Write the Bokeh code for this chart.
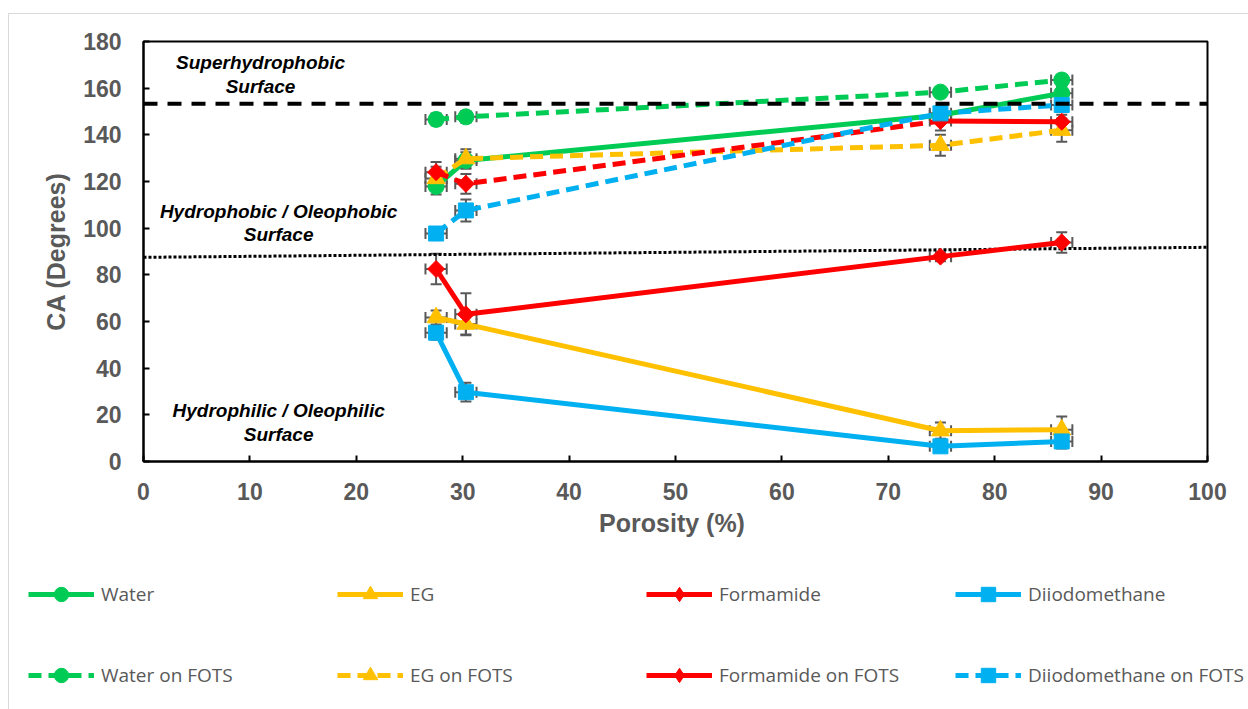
from bokeh.plotting import figure
from bokeh.layouts import column
from bokeh.models import (ColumnDataSource, Whisker, TeeHead, Legend, LegendItem,
                          FixedTicker, Range1d, Span)
from bokeh.core.properties import value
from bokeh.embed import file_html
from bokeh.resources import INLINE

# ---------------- data ----------------
porosity = [27.5, 30.3, 74.9, 86.3]
porosity_err = [1.0, 1.0, 1.0, 1.0]

water = [117.9, 129.0, 148.4, 157.8]
water_err = [3.5, 3.5, 3.0, 3.0]
eg = [61.7, 58.9, 13.2, 13.6]
eg_err = [3.0, 4.5, 3.5, 5.7]
formamide = [82.5, 63.1, 87.8, 93.9]
formamide_err = [6.5, 9.0, 2.0, 4.4]
diiodo = [55.2, 29.7, 6.5, 8.6]
diiodo_err = [3.0, 4.0, 2.0, 3.0]

water_fots = [146.6, 147.7, 158.3, 163.5]
water_fots_err = [2.5, 2.5, 2.0, 2.2]
eg_fots = [121.3, 129.8, 135.5, 142.0]
eg_fots_err = [5.0, 4.0, 4.5, 5.0]
formamide_fots = [124.0, 119.0, 145.9, 145.6]
formamide_fots_err = [4.4, 4.2, 4.0, 3.0]
diiodo_fots = [97.7, 107.6, 149.2, 152.8]
diiodo_fots_err = [2.0, 4.7, 3.0, 3.0]

x_ticks = [0, 10, 20, 30, 40, 50, 60, 70, 80, 90, 100]
y_ticks = [0, 20, 40, 60, 80, 100, 120, 140, 160, 180]

super_threshold = 153.3
oleo_line_x = [0, 100]
oleo_line_y = [87.5, 91.8]

note_x = [11.0, 11.0, 12.7, 12.7, 12.7, 12.7]
note_y = [171.0, 160.7, 107.2, 97.4, 22.0, 11.6]
note_text = ["Superhydrophobic", "Surface",
             "Hydrophobic / Oleophobic", "Surface",
             "Hydrophilic / Oleophilic", "Surface"]

GREEN = "#00CC55"
YELLOW = "#FFC000"
RED = "#FF0000"
BLUE = "#00B0F0"
GRAY = "#595959"

# label, values, errors, colour, plot marker, legend marker, dash, size, angle
series = [
    ("Water", water, water_err, GREEN, "circle", "circle", "solid", 16, 0.0),
    ("EG", eg, eg_err, YELLOW, "triangle", "triangle", "solid", 18, 0.0),
    ("Formamide", formamide, formamide_err, RED, "square", "diamond", "solid", 12, 0.785398),
    ("Diiodomethane", diiodo, diiodo_err, BLUE, "square", "square", "solid", 15, 0.0),
    ("Water on FOTS", water_fots, water_fots_err, GREEN, "circle", "circle", "13 7", 16, 0.0),
    ("EG on FOTS", eg_fots, eg_fots_err, YELLOW, "triangle", "triangle", "13 7", 18, 0.0),
    ("Formamide on FOTS", formamide_fots, formamide_fots_err, RED, "square", "diamond", "13 7", 12, 0.785398),
    ("Diiodomethane on FOTS", diiodo_fots, diiodo_fots_err, BLUE, "square", "square", "13 7", 15, 0.0),
]

# ---------------- main chart ----------------
p = figure(width=1240, height=547, output_backend="svg", toolbar_location=None,
           x_range=Range1d(0, 100), y_range=Range1d(0, 180),
           min_border_left=134, min_border_right=42, min_border_top=27,
           min_border_bottom=100)
p.frame_align = False
p.background_fill_color = "white"
p.border_fill_color = "white"
p.outline_line_color = "black"
p.outline_line_width = 2
p.grid.visible = False

for ax in (p.xaxis[0], p.yaxis[0]):
    ax.axis_line_color = "black"
    ax.axis_line_width = 2
    ax.major_tick_line_color = "black"
    ax.major_tick_line_width = 2
    ax.major_tick_in = 6
    ax.major_tick_out = 0
    ax.minor_tick_line_color = None
    ax.major_label_text_font = "Liberation Sans"
    ax.major_label_text_font_style = "bold"
    ax.major_label_text_font_size = "23px"
    ax.major_label_text_color = GRAY
    ax.axis_label_text_font = "Liberation Sans"
    ax.axis_label_text_font_style = "bold"
    ax.axis_label_text_font_size = "25px"
    ax.axis_label_text_color = GRAY

p.xaxis.ticker = FixedTicker(ticks=x_ticks)
p.yaxis.ticker = FixedTicker(ticks=y_ticks)
p.xaxis.axis_label = "Porosity  (%)"
p.yaxis.axis_label = "CA (Degrees)"
p.xaxis.major_label_standoff = 21
p.xaxis.axis_label_standoff = 6
p.yaxis.major_label_standoff = 22
p.yaxis.axis_label_standoff = 10

# threshold lines
p.add_layout(Span(location=super_threshold, dimension="width", line_color="black",
                  line_width=4, line_dash="14 10"))
p.line(oleo_line_x, oleo_line_y, line_color="black", line_width=3, line_dash="3 2")

# annotations
p.text(x=note_x, y=note_y, text=note_text, text_font=value("Liberation Sans"),
       text_font_style="bold italic", text_font_size="19px", text_color="black",
       text_align="center", text_baseline="middle")

# ---------------- legend strip ----------------
# its ranges lie far away from the data, so only the legend swatches are visible
lg = figure(width=1240, height=149, output_backend="svg", toolbar_location=None,
            x_range=Range1d(-2, -1), y_range=Range1d(-2, -1),
            x_axis_type=None, y_axis_type=None,
            min_border_left=0, min_border_right=0, min_border_top=0, min_border_bottom=0)
lg.frame_align = False
lg.outline_line_color = None
lg.grid.visible = False
lg.background_fill_color = "white"
lg.border_fill_color = "white"

items = []
for label, ys, errs, color, marker, leg_marker, dash, size, ang in series:
    src = ColumnDataSource(dict(
        x=porosity, y=ys,
        up=[v + e for v, e in zip(ys, errs)],
        lo=[v - e for v, e in zip(ys, errs)],
        xup=[v + e for v, e in zip(porosity, porosity_err)],
        xlo=[v - e for v, e in zip(porosity, porosity_err)],
    ))
    for dim, base, up, lo in (("height", "x", "up", "lo"), ("width", "y", "xup", "xlo")):
        p.add_layout(Whisker(base=base, upper=up, lower=lo, source=src, dimension=dim,
                             line_color=GRAY, line_width=2, level="underlay",
                             upper_head=TeeHead(size=11, line_color=GRAY, line_width=2),
                             lower_head=TeeHead(size=11, line_color=GRAY, line_width=2)))
    if label == "Formamide on FOTS":
        p.line(porosity[:3], ys[:3], line_color=color, line_width=5, line_dash=dash)
        p.line(porosity[2:], ys[2:], line_color=color, line_width=5)
        leg_dash = "solid"
    else:
        p.line("x", "y", source=src, line_color=color, line_width=5, line_dash=dash)
        leg_dash = dash
    p.scatter("x", "y", source=src, marker=marker, size=size, angle=ang,
              fill_color=color, line_color=color)
    # legend swatches (same series, drawn outside the strip's visible range)
    ll = lg.line("x", "y", source=src, line_color=color, line_width=5, line_dash=leg_dash)
    ls = lg.scatter("x", "y", source=src, marker=leg_marker, size=size,
                    fill_color=color, line_color=color)
    items.append(LegendItem(label=label, renderers=[ll, ls]))

common = dict(orientation="horizontal", padding=0, margin=0, spacing=7,
              glyph_width=66, glyph_height=36, label_width=229, label_height=36,
              label_standoff=7, label_text_font="Open Sans", label_text_font_size="19px",
              label_text_color=GRAY, background_fill_alpha=0, border_line_alpha=0)
lg.add_layout(Legend(items=items[:4], location=(19, 98), **common))
lg.add_layout(Legend(items=items[4:], location=(19, 17), **common))

page = column(p, lg, spacing=0, margin=(13, 0, 0, 8),
              styles={"border-top": "1px solid #d9d9d9", "border-left": "1px solid #d9d9d9"})

open("out.html", "w").write(file_html(page, INLINE))
